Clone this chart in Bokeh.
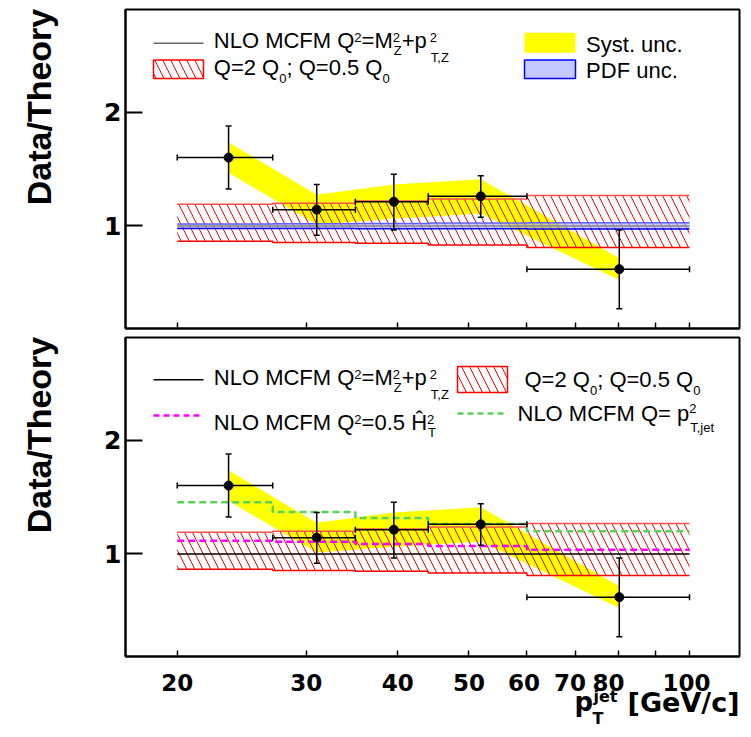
import math
from bokeh.plotting import figure
from bokeh.layouts import column
from bokeh.models import (Range1d, FixedTicker, Label, Whisker, TeeHead, LinearAxis,
                          ColumnDataSource, PrintfTickFormatter, CustomJSTickFormatter)
from bokeh.embed import file_html
from bokeh.resources import INLINE

# ---------------- data ----------------
bin_edges = [20, 27, 35, 44, 60, 100]
pt_centers = [23.5, 31.0, 39.5, 51.9, 80.2]
data_ratio = [1.60, 1.143, 1.213, 1.26, 0.621]
stat_up = [0.277, 0.222, 0.242, 0.18, 0.344]
stat_dn = [0.276, 0.225, 0.248, 0.184, 0.347]
syst_err = [0.134, 0.13, 0.15, 0.15, 0.096]
scale_hi = [1.19, 1.199, 1.22, 1.236, 1.267]
scale_lo = [0.866, 0.854, 0.848, 0.834, 0.812]
pdf_hi = [1.018, 1.02, 1.022, 1.025, 1.029]
pdf_lo = [0.977, 0.977, 0.976, 0.975, 0.974]
nlo_central = [1.0, 1.0, 1.0, 1.0, 1.0]
nlo_ht = [1.117, 1.108, 1.088, 1.07, 1.038]
nlo_ptjet = [1.453, 1.368, 1.316, 1.263, 1.199]
x_ticks = [20, 30, 40, 50, 60, 70, 80, 100]
x_minor_ticks = [90]
y_ticks = [1, 2]

# ---------------- layout constants ----------------
W = 751
FR_L, FR_R = 125, 739
X_LO, X_HI = 17.0, 117.0
Y_LO, Y_HI = 0.1, 2.9
TOP1, BOT1 = 9, 328
TOP2, BOT2 = 337, 656
H1 = 333                       # top figure: page y 0..333
H2 = 4 + (BOT2 - TOP2) + 5     # middle figure: page y 333..661
H3 = 737 - H1 - H2             # strip with tick labels and x title
OFF2 = H1
OFF3 = H1 + H2

SANS = "Liberation Sans"
BOLDF = "DejaVu Sans"
BASE_CORR = 0.27   # empirical baseline correction (fraction of font size)
# horizontal nudges (px) of some tick labels, as in the original layout
TICK_LABEL_NUDGE = {60: -3, 70: -6, 80: -10, 100: -3}


def X(px):
    return 10 ** (math.log10(X_LO) + (px - FR_L) / (FR_R - FR_L) * math.log10(X_HI / X_LO))


def make_Y(top, bot):
    return lambda py: Y_LO + (bot - py) / (bot - top) * (Y_HI - Y_LO)


Y1 = make_Y(TOP1, BOT1)
Y2 = make_Y(TOP2, BOT2)

AW = {'N': 722, 'L': 556, 'O': 778, ' ': 278, 'M': 833, 'C': 722, 'F': 611, 'Q': 778,
      '=': 584, '+': 584, 'p': 556, ';': 278, '0': 556, '2': 556, '5': 556, '.': 278,
      'T': 611, 'Z': 611, ',': 278, 'H': 722, 'Ĥ': 722, 'j': 222, 'e': 556, 't': 278}


def tw(s, size):
    return sum(AW.get(c, 556) for c in s) * size / 1000.0


def txt(p, off, px, py, text, size, font=SANS, bold=False, align="left",
        data_x=None, x_offset=0):
    """Text anchored at page pixel px (or data x) with baseline at page pixel py."""
    lab = dict(y=py - off - BASE_CORR * size, y_units="canvas", text=text,
               text_font=font, text_font_size=f"{size}px",
               text_font_style="bold" if bold else "normal",
               text_baseline="alphabetic", text_align=align, text_color="black",
               x_offset=x_offset)
    if data_x is None:
        lab.update(x=px, x_units="canvas")
    else:
        lab.update(x=data_x, x_units="data")
    p.add_layout(Label(**lab))


def rich(p, off, x0, base, segs, size=22, small=13):
    x = x0
    for seg in segs:
        k = seg[0]
        if k == "t":
            txt(p, off, x, base, seg[1], size)
            x += tw(seg[1], size)
        elif k == "gap":
            x += seg[1]
        elif k == "sup":
            txt(p, off, x, base - seg[2], seg[1], small)
            x += tw(seg[1], small)
        elif k == "sub":
            txt(p, off, x, base + seg[2], seg[1], small)
            x += tw(seg[1], small)
        elif k == "ss":
            sup, sub, up, down = seg[1:]
            txt(p, off, x, base - up, sup, small)
            txt(p, off, x + 1, base + down, sub, small)
            x += max(tw(sup, small), tw(sub, small) + 1)


def step_xy(edges, vals):
    xs, ys = [], []
    for i, v in enumerate(vals):
        xs += [edges[i], edges[i + 1]]
        ys += [v, v]
    return xs, ys


def base_fig(height, top, bottom_border, Yf, frame_top):
    p = figure(width=W, height=height, x_axis_type="log",
               x_range=Range1d(X_LO, X_HI), y_range=Range1d(Y_LO, Y_HI),
               output_backend="svg", toolbar_location=None,
               min_border_left=FR_L, min_border_right=W - FR_R,
               min_border_top=top, min_border_bottom=bottom_border)
    p.xgrid.visible = False
    p.ygrid.visible = False
    p.background_fill_color = "white"
    p.border_fill_color = "white"
    p.outline_line_color = "black"
    p.outline_line_width = 2
    xa = p.xaxis[0]
    xa.ticker = FixedTicker(ticks=x_ticks, minor_ticks=x_minor_ticks)
    xa.formatter = PrintfTickFormatter(format="%d")
    xa.major_tick_in = 6
    xa.major_tick_out = 0
    xa.minor_tick_in = 6
    xa.minor_tick_out = 0
    xa.axis_line_width = 2
    xa.major_tick_line_width = 1.5
    xa.minor_tick_line_width = 1.5
    xa.major_label_text_font_size = "0px"
    xa.major_label_standoff = 0
    xa.major_label_overrides = {t: "" for t in x_ticks}
    ya = p.yaxis[0]
    ya.ticker = FixedTicker(ticks=y_ticks, minor_ticks=[])
    ya.major_tick_in = 17
    ya.major_tick_out = 0
    ya.minor_tick_in = 0
    ya.minor_tick_out = 0
    ya.axis_line_width = 2
    ya.major_tick_line_width = 2
    ya.major_label_text_font = BOLDF
    ya.major_label_text_font_style = "bold"
    ya.major_label_text_font_size = "25px"
    ya.major_label_standoff = 4
    ya.major_label_text_color = "black"
    # y title: drawn as the single label of an outer, invisible axis, so that it
    # is anchored near the top of the frame (ROOT style)
    title_center = Yf(frame_top + 97.5)
    ta = LinearAxis(ticker=FixedTicker(ticks=[title_center], minor_ticks=[]),
                    formatter=CustomJSTickFormatter(code="return 'Data/Theory'"),
                    axis_line_color=None, major_tick_line_color=None,
                    minor_tick_line_color=None, major_tick_in=0, major_tick_out=0,
                    minor_tick_in=0, minor_tick_out=0,
                    major_label_orientation="vertical", major_label_standoff=44,
                    major_label_text_font=SANS, major_label_text_font_style="bold",
                    major_label_text_font_size="34px", major_label_text_color="black")
    p.add_layout(ta, "left")
    return p


HATCH = dict(hatch_pattern="\\", hatch_color="#ff0000", hatch_scale=16, hatch_weight=1)


def draw_common(p):
    up = [d + s for d, s in zip(data_ratio, syst_err)]
    dn = [d - s for d, s in zip(data_ratio, syst_err)]
    p.patch(pt_centers + pt_centers[::-1], up + dn[::-1],
            fill_color="#ffff00", line_color=None)
    xh, yh = step_xy(bin_edges, scale_hi)
    xl, yl = step_xy(bin_edges, scale_lo)
    p.patch(xh + xl[::-1], yh + yl[::-1], fill_color=None, fill_alpha=0,
            line_color=None, **HATCH)
    p.line(xh, yh, line_color="#ff5050", line_width=1.5)
    p.line(xl, yl, line_color="#ff0000", line_width=1.5)


def draw_data(p):
    src = ColumnDataSource(dict(
        x=pt_centers, y=data_ratio,
        ylo=[d - e for d, e in zip(data_ratio, stat_dn)],
        yhi=[d + e for d, e in zip(data_ratio, stat_up)],
        xlo=bin_edges[:-1], xhi=bin_edges[1:]))
    for dim, base, lo, hi in (("height", "x", "ylo", "yhi"), ("width", "y", "xlo", "xhi")):
        p.add_layout(Whisker(source=src, base=base, lower=lo, upper=hi, dimension=dim,
                             line_color="black", line_width=1.5, level="annotation",
                             upper_head=TeeHead(size=6, line_width=1.5, line_color="black"),
                             lower_head=TeeHead(size=6, line_width=1.5, line_color="black")))
    p.scatter("x", "y", source=src, size=9, color="black", level="annotation")


row_formula = [("t", "NLO MCFM Q"), ("sup", "2", 5.7), ("t", "=M"),
               ("ss", "2", "Z", 5.7, 7.7), ("t", "+p"), ("gap", 3),
               ("ss", "2", "T,Z", 5.7, 14.3)]
row_scale = [("t", "Q=2 Q"), ("sub", "0", 8.8), ("t", "; Q=0.5 Q"), ("sub", "0", 8.8)]

# ---------------- top panel ----------------
p1 = base_fig(H1, TOP1, H1 - BOT1, Y1, TOP1)
draw_common(p1)
xph, yph = step_xy(bin_edges, pdf_hi)
xpl, ypl = step_xy(bin_edges, pdf_lo)
p1.patch(xph + xpl[::-1], yph + ypl[::-1], fill_color="#9aa4ff", fill_alpha=0.55,
         line_color=None)
p1.line(xph, yph, line_color="#6060ff", line_width=1.5)
p1.line(xpl, ypl, line_color="#0000ee", line_width=1.5)
xc, yc = step_xy(bin_edges, nlo_central)
p1.line(xc, yc, line_color="#888888", line_width=1.5)
draw_data(p1)

# legend (top)
p1.line([X(153), X(203)], [Y1(42.7), Y1(42.7)], line_color="#666666", line_width=1.5)
p1.quad(left=[X(153)], right=[X(203)], top=[Y1(59.5)], bottom=[Y1(78)],
        fill_color=None, fill_alpha=0, line_color="#ff0000", line_width=1.5, **HATCH)
p1.quad(left=[X(524)], right=[X(575)], top=[Y1(32.3)], bottom=[Y1(52.3)],
        fill_color="#ffff00", line_color=None)
p1.quad(left=[X(524)], right=[X(575)], top=[Y1(59.5)], bottom=[Y1(78)],
        fill_color="#c4caff", line_color="#0000ff", line_width=1.5)
rich(p1, 0, 213.3, 46, row_formula)
rich(p1, 0, 213.3, 72.5, row_scale)
txt(p1, 0, 585.6, 50, "Syst. unc.", 22)
txt(p1, 0, 585.6, 76, "PDF unc.", 22)

# ---------------- bottom panel ----------------
p2 = base_fig(H2, TOP2 - OFF2, H2 - (BOT2 - OFF2), Y2, TOP2)
draw_common(p2)
p2.line(xc, yc, line_color="black", line_width=1.5)
xm, ym = step_xy(bin_edges, nlo_ht)
p2.line(xm, ym, line_color="#ff00ff", line_width=2.5, line_dash="7 4")
xg, yg = step_xy(bin_edges, nlo_ptjet)
p2.line(xg, yg, line_color="#5ad25a", line_width=2.5, line_dash="7 4")
draw_data(p2)

# legend (bottom)
p2.line([X(153), X(203)], [Y2(379.3), Y2(379.3)], line_color="black", line_width=1.5)
p2.line([X(153), X(203)], [Y2(415), Y2(415)], line_color="#ff00ff", line_width=2.5,
        line_dash="6 4")
p2.quad(left=[X(457)], right=[X(507)], top=[Y2(366)], bottom=[Y2(392)],
        fill_color=None, fill_alpha=0, line_color="#ff0000", line_width=1.5, **HATCH)
p2.line([X(457), X(505)], [Y2(413), Y2(413)], line_color="#5ad25a", line_width=2.5,
        line_dash="6 4")
rich(p2, OFF2, 213.3, 383.3, row_formula)
rich(p2, OFF2, 213.3, 428, [("t", "NLO MCFM Q"), ("sup", "2", 5.7), ("t", "=0.5 Ĥ"),
                            ("ss", "2", "T", 5.7, 8)])
rich(p2, OFF2, 524, 385, row_scale)
rich(p2, OFF2, 517, 418.5, [("t", "NLO MCFM Q= p"), ("ss", "2", "T,jet", 7, 12)])

# ---------------- strip with x tick labels and x title ----------------
p3 = figure(width=W, height=H3, x_axis_type="log",
            x_range=Range1d(X_LO, X_HI), y_range=Range1d(0, 1),
            x_axis_location=None, y_axis_location=None, title=None,
            output_backend="svg", toolbar_location=None,
            min_border_left=FR_L, min_border_right=W - FR_R,
            min_border_top=0, min_border_bottom=0)
p3.outline_line_color = None
p3.xgrid.visible = False
p3.ygrid.visible = False
p3.background_fill_color = "white"
p3.border_fill_color = "white"
for t in x_ticks:
    txt(p3, OFF3, 0, 688.3, str(t), 23, font=BOLDF, bold=True, align="center",
        data_x=t, x_offset=TICK_LABEL_NUDGE.get(t, 0))
txt(p3, OFF3, 574, 709, "p", 26, font=BOLDF, bold=True)
txt(p3, OFF3, 593, 700, "jet", 16, font=BOLDF, bold=True)
txt(p3, OFF3, 592, 722, "T", 16, font=BOLDF, bold=True)
txt(p3, OFF3, 739, 709, "[GeV/c]", 27, font=BOLDF, bold=True, align="right")

layout = column(p1, p2, p3, spacing=0)
open("out.html", "w").write(file_html(layout, INLINE))
